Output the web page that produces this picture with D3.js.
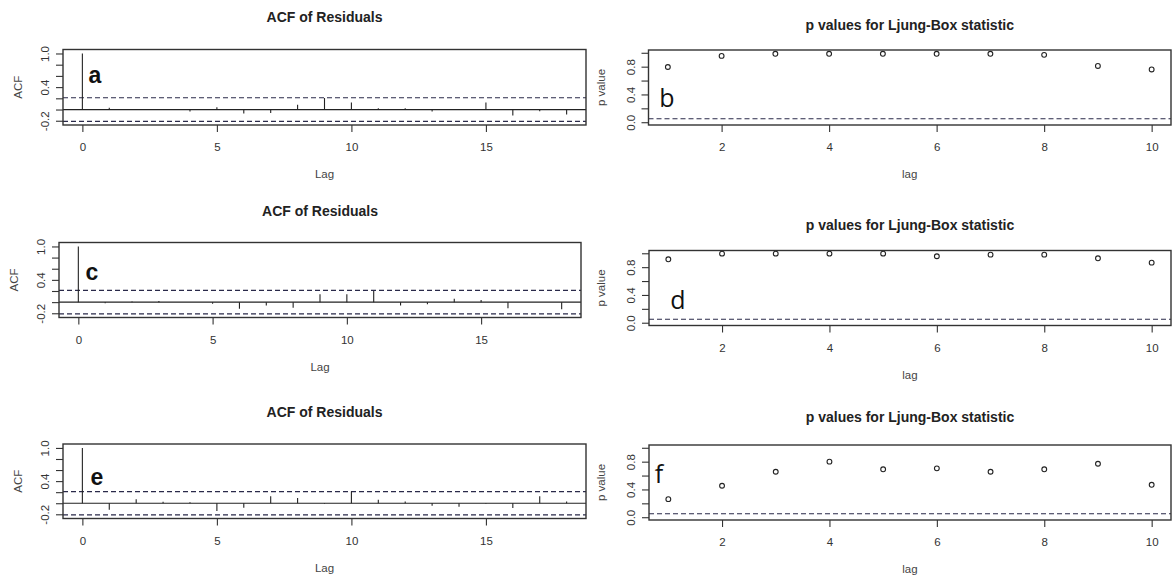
<!DOCTYPE html>
<html>
<head>
<meta charset="utf-8">
<script src="https://cdn.jsdelivr.net/npm/d3@7"></script>
<style>
  body { margin: 0; background: #fff; }
  svg text { font-family: "Liberation Sans Narrow", "Arial Narrow", "Liberation Sans", Arial, sans-serif; }
</style>
</head>
<body>
<svg id="chart" width="1173" height="575"></svg>
<script>
// ============================= Datos de los paneles =========================//
var acfLags = [0, 1, 2, 3, 4, 5, 6, 7, 8, 9, 10, 11, 12, 13, 14, 15, 16, 17, 18];
var acfA = [1.00, 0.03, -0.01, 0.005, -0.035, 0.04, -0.07, -0.06, 0.085, 0.205, 0.125, 0.025, 0.025, -0.035, -0.01, 0.125, -0.105, -0.03, -0.09];
var acfC = [1.00, -0.02, 0.01, 0.02, 0.0, -0.03, -0.12, -0.06, -0.10, 0.14, 0.14, 0.20, -0.06, -0.04, 0.06, 0.04, -0.11, 0.0, -0.13];
var acfE = [1.00, -0.12, 0.07, 0.025, 0.02, -0.14, -0.08, 0.125, 0.095, -0.01, 0.21, 0.065, 0.03, -0.045, -0.065, -0.01, -0.085, 0.125, 0.03];

var lbLags = [1, 2, 3, 4, 5, 6, 7, 8, 9, 10];
var pvalB = [0.795, 0.955, 0.985, 0.985, 0.985, 0.985, 0.985, 0.97, 0.81, 0.76];
var pvalD = [0.913, 0.995, 0.995, 0.995, 0.995, 0.957, 0.98, 0.98, 0.928, 0.865];
var pvalF = [0.26, 0.453, 0.655, 0.80, 0.69, 0.704, 0.655, 0.69, 0.77, 0.467];

var acfBand = 0.21;   // limite de confianza
var pLevel = 0.05;    // nivel de significancia

var acfTicksX = [0, 5, 10, 15];
var acfTicksY = [-0.2, 0, 0.2, 0.4, 0.6, 0.8, 1.0];
var acfLabelsY = ["-0.2", "0.4", "1.0"];
var lbTicksX = [2, 4, 6, 8, 10];
var lbTicksY = [0, 0.2, 0.4, 0.6, 0.8, 1.0];
var lbLabelsY = ["0.0", "0.4", "0.8"];

var acfTitle = "ACF of Residuals";
var lbTitle = "p values for Ljung-Box statistic";

// ============================= Ubicacion de cada panel =========================//
var panels = [
  { tag: "a", kind: "acf", vals: acfA, box: [63, 49.5, 586, 125], titleY: 17.5, tagPos: [95, 75], tagBold: true },
  { tag: "c", kind: "acf", vals: acfC, box: [59, 242.5, 581, 317.5], titleY: 211.5, tagPos: [92, 272], tagBold: true },
  { tag: "e", kind: "acf", vals: acfE, box: [63, 444, 586, 518.5], titleY: 412.5, tagPos: [97, 477], tagBold: true },
  { tag: "b", kind: "lb", vals: pvalB, box: [648.5, 50, 1171, 125], titleY: 25, tagPos: [667, 98], tagBold: false },
  { tag: "d", kind: "lb", vals: pvalD, box: [649, 250.5, 1171, 325.5], titleY: 225, tagPos: [678, 300], tagBold: false },
  { tag: "f", kind: "lb", vals: pvalF, box: [649, 445, 1171, 520], titleY: 417, tagPos: [659, 474], tagBold: false }
];

var svg = d3.select("#chart");
var ink = "#222";

// ============================= Dibuja un panel =========================//
var drawPanel = function(p) {
  var L = p.box[0], T = p.box[1], R = p.box[2], B = p.box[3];
  var isAcf = p.kind == "acf";

  var x = d3.scaleLinear()
    .domain(isAcf ? [-0.72, 18.72] : [0.64, 10.36])
    .range([L, R]);
  var y = d3.scaleLinear()
    .domain(isAcf ? [-0.276, 1.071] : [-0.04, 1.04])
    .range([B, T]);

  var g = svg.append("g").attr("class", "panel-" + p.tag);

  // titulo
  g.append("text")
    .attr("x", (L + R) / 2)
    .attr("y", p.titleY)
    .attr("dy", "0.35em")
    .attr("text-anchor", "middle")
    .style("font-size", "14px")
    .style("font-weight", "bold")
    .style("fill", ink)
    .text(isAcf ? acfTitle : lbTitle);

  // lineas de referencia
  var refs = isAcf ? [acfBand, -acfBand] : [pLevel];
  g.selectAll("line.ref")
    .data(refs)
    .enter().append("line")
      .attr("class", "ref")
      .attr("x1", L).attr("x2", R)
      .attr("y1", function(d) { return y(d); })
      .attr("y2", function(d) { return y(d); })
      .style("stroke", "#2a2a4a")
      .style("stroke-width", 1.2)
      .style("stroke-dasharray", "5,3");

  if (isAcf) {
    g.append("line")
      .attr("x1", L).attr("x2", R)
      .attr("y1", y(0)).attr("y2", y(0))
      .style("stroke", ink)
      .style("stroke-width", 1.2);

    g.selectAll("line.bar")
      .data(acfLags)
      .enter().append("line")
        .attr("class", "bar")
        .attr("x1", function(d) { return x(d); })
        .attr("x2", function(d) { return x(d); })
        .attr("y1", y(0))
        .attr("y2", function(d, i) { return y(p.vals[i]); })
        .style("stroke", ink)
        .style("stroke-width", 1.1);
  } else {
    g.selectAll("circle.pt")
      .data(lbLags)
      .enter().append("circle")
        .attr("class", "pt")
        .attr("cx", function(d) { return x(d); })
        .attr("cy", function(d, i) { return y(p.vals[i]); })
        .attr("r", 2.4)
        .style("fill", "none")
        .style("stroke", ink)
        .style("stroke-width", 1.1);
  }

  // ejes
  var xAxis = d3.axisBottom(x)
    .tickValues(isAcf ? acfTicksX : lbTicksX)
    .tickSize(7)
    .tickPadding(11)
    .tickFormat(d3.format("d"));
  var gx = g.append("g")
    .attr("transform", "translate(0," + B + ")")
    .call(xAxis);

  var yLabels = isAcf ? acfLabelsY : lbLabelsY;
  var yAxis = d3.axisLeft(y)
    .tickValues(isAcf ? acfTicksY : lbTicksY)
    .tickSize(7)
    .tickFormat(function(d) {
      var s = d.toFixed(1);   // guion normal, no el signo menos unicode
      return yLabels.indexOf(s) >= 0 ? s : "";
    });
  var gy = g.append("g")
    .attr("transform", "translate(" + L + ",0)")
    .call(yAxis);

  [gx, gy].forEach(function(ax) {
    ax.select(".domain").remove();
    ax.selectAll(".tick line").style("stroke", "#333").style("stroke-width", 1.1);
    ax.selectAll(".tick text")
      .style("font-size", "11.5px")
      .style("fill", "#333")
      .style("font-family", null);
  });
  gy.selectAll(".tick text")
    .attr("transform", "rotate(-90)")
    .attr("x", 0)
    .attr("y", -18)
    .attr("dy", "0.35em")
    .attr("text-anchor", "middle");

  // titulos de ejes
  g.append("text")
    .attr("x", (L + R) / 2)
    .attr("y", B + 49)
    .attr("dy", "0.35em")
    .attr("text-anchor", "middle")
    .style("font-size", "11.5px")
    .style("fill", "#444")
    .text(isAcf ? "Lag" : "lag");

  var ylx = isAcf ? L - 45 : L - 48;
  g.append("text")
    .attr("transform", "translate(" + ylx + "," + (T + B) / 2 + ") rotate(-90)")
    .attr("dy", "0.35em")
    .attr("text-anchor", "middle")
    .style("font-size", "11.5px")
    .style("fill", "#444")
    .text(isAcf ? "ACF" : "p value");

  // caja
  g.append("rect")
    .attr("x", L).attr("y", T)
    .attr("width", R - L).attr("height", B - T)
    .style("fill", "none")
    .style("stroke", "#333")
    .style("stroke-width", 1.4);

  // letra del panel
  g.append("text")
    .attr("x", p.tagPos[0])
    .attr("y", p.tagPos[1])
    .attr("dy", "0.35em")
    .attr("text-anchor", "middle")
    .style("font-family", p.tagBold ? "'Liberation Sans', Arial, sans-serif" : "'Open Sans', 'Noto Sans', sans-serif")
    .style("font-size", p.tagBold ? "23px" : "25px")
    .style("font-weight", p.tagBold ? "bold" : "normal")
    .style("fill", "#111")
    .text(p.tag);
};

panels.forEach(drawPanel);
</script>
</body>
</html>
